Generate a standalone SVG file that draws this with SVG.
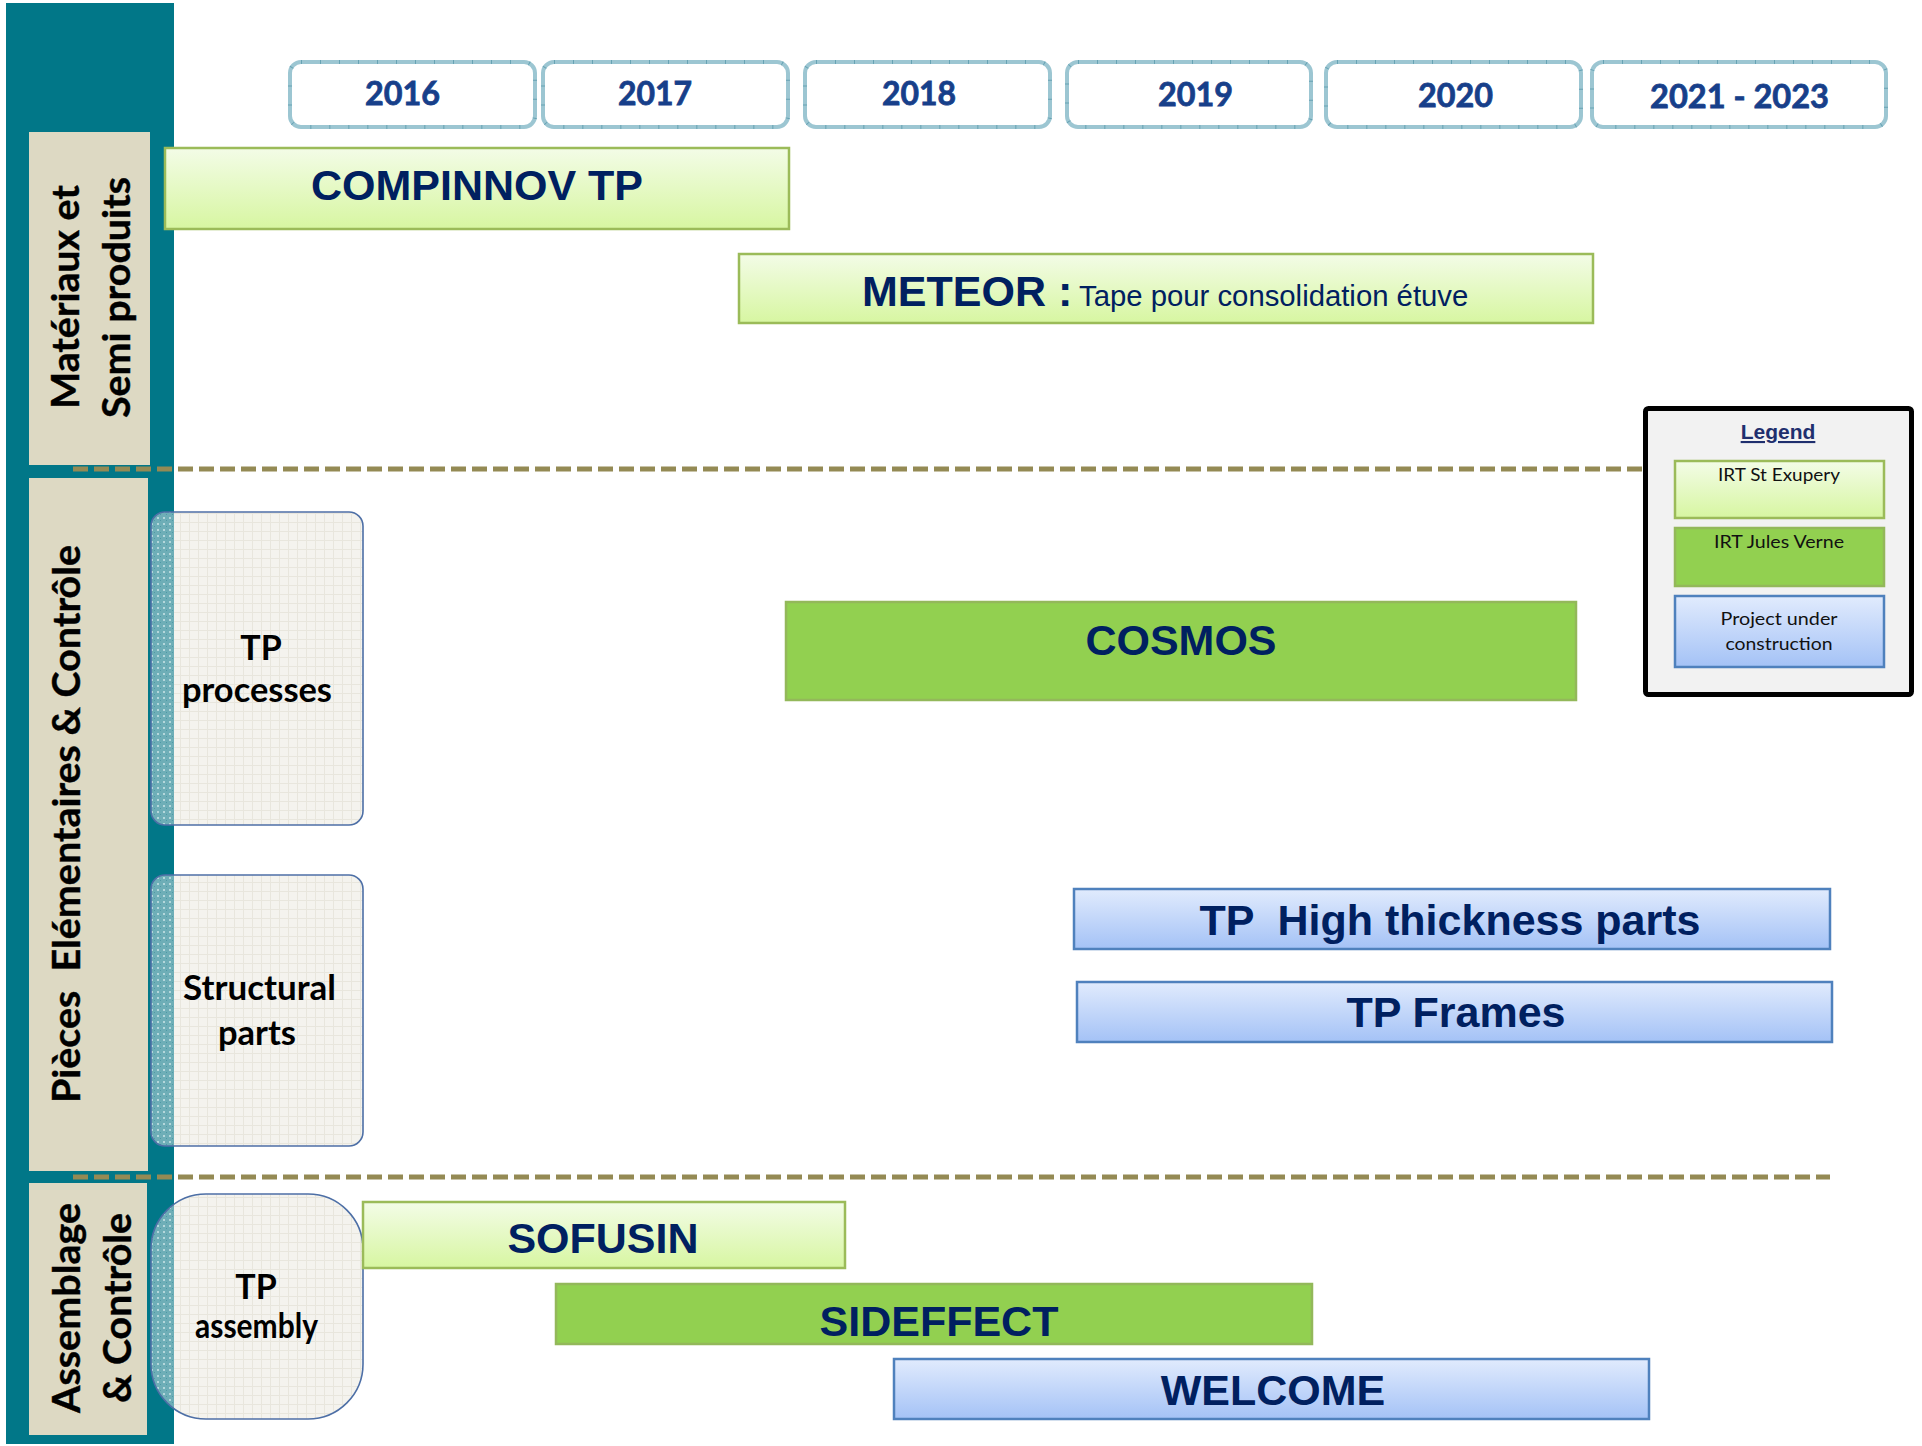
<svg xmlns="http://www.w3.org/2000/svg" width="1922" height="1446" viewBox="0 0 1922 1446">
  <defs>
    <linearGradient id="gLight" x1="0" y1="0" x2="0" y2="1">
      <stop offset="0" stop-color="#f3fce7"/>
      <stop offset="1" stop-color="#d7f6a1"/>
    </linearGradient>
    <linearGradient id="gBlue" x1="0" y1="0" x2="0" y2="1">
      <stop offset="0" stop-color="#e1ebfd"/>
      <stop offset="1" stop-color="#a4c2f6"/>
    </linearGradient>
    <!-- faint paper grid for the category boxes -->
    <pattern id="paper" width="9" height="9" patternUnits="userSpaceOnUse">
      <rect width="9" height="9" fill="#f4f3ee"/>
      <path d="M0 0.5H9M0.5 0V9" stroke="#e8e6dd" stroke-width="1"/>
    </pattern>
    <!-- checker seen where the boxes overlap the teal band -->
    <pattern id="tealCheck" width="6" height="6" patternUnits="userSpaceOnUse">
      <rect width="6" height="6" fill="#6eaeb7"/>
      <rect x="1" y="1" width="2" height="2" fill="#b4d7db"/>
      <rect x="4" y="4" width="1" height="1" fill="#4d99a5"/>
    </pattern>
    <clipPath id="cpProc"><rect x="151" y="512" width="212" height="313" rx="14"/></clipPath>
    <clipPath id="cpStruct"><rect x="151" y="875" width="212" height="271" rx="14"/></clipPath>
    <clipPath id="cpAsm"><rect x="151" y="1194" width="212" height="225" rx="55"/></clipPath>
    <style>
      .band { fill: #017788; }
      .lane { fill: #ddd9c3; }
      .laneText { font-family: Lato, "Open Sans", sans-serif; font-weight: 700; fill: #000; stroke: #000; stroke-width: 0.4; text-anchor: middle; }
      .sep { stroke: #948a54; stroke-width: 5; stroke-dasharray: 15 6; fill: none; }
      .year { fill: #fff; stroke: #9cc6d2; stroke-width: 4; }
      .yearTick { fill: none; stroke: #67a3b4; stroke-width: 4; stroke-dasharray: 1 18; }
      .yearText { font-family: Lato, "Open Sans", sans-serif; font-weight: 700; font-size: 33px; fill: #173f8a; stroke: #173f8a; stroke-width: 0.8; text-anchor: middle; white-space: pre; }
      .light { fill: url(#gLight); stroke: #9bbb59; stroke-width: 2.5; }
      .green { fill: #92d050; stroke: #93b85a; stroke-width: 2.5; }
      .blue { fill: url(#gBlue); stroke: #4f81bd; stroke-width: 2.5; }
      .bar { font-family: "Liberation Sans", Arial, sans-serif; font-weight: 700; font-size: 43px; fill: #002060; text-anchor: middle; white-space: pre; }
      .barStart { font-family: "Liberation Sans", Arial, sans-serif; font-weight: 700; font-size: 43px; fill: #002060; text-anchor: start; white-space: pre; }
      .cat { fill: url(#paper); }
      .catEdge { fill: none; stroke: #4d6fa6; stroke-width: 1.6; }
      .catText { font-family: Lato, "Open Sans", sans-serif; font-weight: 700; font-size: 34px; fill: #000; text-anchor: middle; }
      .legText { font-family: Lato, "Open Sans", sans-serif; font-size: 18px; fill: #111; text-anchor: middle; }
    </style>
  </defs>

  <rect width="1922" height="1446" fill="#fff"/>

  <!-- left teal band with the three lane headers -->
  <g id="lanes">
    <rect class="band" x="6" y="3" width="168" height="1441"/>
    <g id="lane-materiaux">
      <rect class="lane" x="29" y="132" width="121" height="333"/>
      <text class="laneText" font-size="38" transform="translate(79,297) rotate(-90)" textLength="224" lengthAdjust="spacingAndGlyphs">Matériaux et</text>
      <text class="laneText" font-size="38" transform="translate(130,297.5) rotate(-90)" textLength="241" lengthAdjust="spacingAndGlyphs">Semi produits</text>
    </g>
    <g id="lane-pieces">
      <rect class="lane" x="29" y="478" width="119" height="693"/>
      <text class="laneText" font-size="38" style="white-space:pre" transform="translate(80,824) rotate(-90)" textLength="558" lengthAdjust="spacingAndGlyphs">Pièces  Elémentaires &amp; Contrôle</text>
    </g>
    <g id="lane-assemblage">
      <rect class="lane" x="29" y="1183" width="118" height="252"/>
      <text class="laneText" font-size="38" transform="translate(80,1308) rotate(-90)" textLength="210" lengthAdjust="spacingAndGlyphs">Assemblage</text>
      <text class="laneText" font-size="38" transform="translate(131,1308) rotate(-90)" textLength="190" lengthAdjust="spacingAndGlyphs">&amp; Contrôle</text>
    </g>
  </g>

  <!-- lane separators -->
  <g id="connectors">
    <line class="sep" x1="73" y1="469" x2="1645" y2="469"/>
    <line class="sep" x1="73" y1="1177" x2="1830" y2="1177"/>
  </g>

  <!-- year header -->
  <g id="years">
    <g id="y2016">
      <rect class="year" x="290" y="62" width="245" height="65" rx="11"/>
      <rect class="yearTick" x="290" y="62" width="245" height="65" rx="11"/>
      <text class="yearText" x="402.5" y="105" textLength="75" lengthAdjust="spacingAndGlyphs">2016</text>
    </g>
    <g id="y2017">
      <rect class="year" x="543" y="62" width="245" height="65" rx="11"/>
      <rect class="yearTick" x="543" y="62" width="245" height="65" rx="11"/>
      <text class="yearText" x="655" y="105" textLength="74" lengthAdjust="spacingAndGlyphs">2017</text>
    </g>
    <g id="y2018">
      <rect class="year" x="805" y="62" width="245" height="65" rx="11"/>
      <rect class="yearTick" x="805" y="62" width="245" height="65" rx="11"/>
      <text class="yearText" x="919" y="105" textLength="74" lengthAdjust="spacingAndGlyphs">2018</text>
    </g>
    <g id="y2019">
      <rect class="year" x="1067" y="62" width="244" height="65" rx="11"/>
      <rect class="yearTick" x="1067" y="62" width="244" height="65" rx="11"/>
      <text class="yearText" x="1195.5" y="106" textLength="75" lengthAdjust="spacingAndGlyphs">2019</text>
    </g>
    <g id="y2020">
      <rect class="year" x="1326" y="62" width="255" height="65" rx="11"/>
      <rect class="yearTick" x="1326" y="62" width="255" height="65" rx="11"/>
      <text class="yearText" x="1455.5" y="107" textLength="75" lengthAdjust="spacingAndGlyphs">2020</text>
    </g>
    <g id="y2021">
      <rect class="year" x="1592" y="62" width="294" height="65" rx="11"/>
      <rect class="yearTick" x="1592" y="62" width="294" height="65" rx="11"/>
      <text class="yearText" x="1739.5" y="108" textLength="179" lengthAdjust="spacingAndGlyphs">2021 - 2023</text>
    </g>
  </g>

  <!-- category boxes -->
  <g id="cat-tp-processes">
    <rect class="cat" x="151" y="512" width="212" height="313" rx="14"/>
    <rect x="151" y="512" width="23" height="313" fill="url(#tealCheck)" clip-path="url(#cpProc)"/>
    <rect class="catEdge" x="151" y="512" width="212" height="313" rx="14"/>
    <text class="catText" x="261" y="660">TP</text>
    <text class="catText" x="257" y="702" textLength="150" lengthAdjust="spacingAndGlyphs">processes</text>
  </g>
  <g id="cat-structural">
    <rect class="cat" x="151" y="875" width="212" height="271" rx="14"/>
    <rect x="151" y="875" width="23" height="271" fill="url(#tealCheck)" clip-path="url(#cpStruct)"/>
    <rect class="catEdge" x="151" y="875" width="212" height="271" rx="14"/>
    <text class="catText" x="259.5" y="1000" textLength="153" lengthAdjust="spacingAndGlyphs">Structural</text>
    <text class="catText" x="257" y="1045" textLength="78" lengthAdjust="spacingAndGlyphs">parts</text>
  </g>
  <g id="cat-tp-assembly">
    <rect class="cat" x="151" y="1194" width="212" height="225" rx="55"/>
    <rect x="151" y="1194" width="23" height="225" fill="url(#tealCheck)" clip-path="url(#cpAsm)"/>
    <rect class="catEdge" x="151" y="1194" width="212" height="225" rx="55"/>
    <text class="catText" x="256" y="1299" font-size="29">TP</text>
    <text class="catText" x="256.5" y="1338" font-size="30" textLength="123" lengthAdjust="spacingAndGlyphs">assembly</text>
  </g>

  <!-- project bars -->
  <g id="compinnov">
    <rect class="light" x="165" y="148" width="624" height="81"/>
    <text class="bar" x="477" y="200" font-size="42">COMPINNOV TP</text>
  </g>
  <g id="meteor">
    <rect class="light" x="739" y="254" width="854" height="69"/>
    <text class="barStart" y="306"><tspan x="862">METEOR :</tspan><tspan x="1079" font-weight="400" font-size="29.3">Tape pour consolidation étuve</tspan></text>
  </g>
  <g id="cosmos">
    <rect class="green" x="786" y="602" width="790" height="98"/>
    <text class="bar" x="1181" y="655" font-size="42">COSMOS</text>
  </g>
  <g id="tp-high-thickness">
    <rect class="blue" x="1074" y="889" width="756" height="60"/>
    <text class="bar" x="1450" y="935" font-size="42">TP  High thickness parts</text>
  </g>
  <g id="tp-frames">
    <rect class="blue" x="1077" y="982" width="755" height="60"/>
    <text class="bar" x="1456" y="1027" font-size="42">TP Frames</text>
  </g>
  <g id="sofusin">
    <rect class="light" x="363" y="1202" width="482" height="66"/>
    <text class="bar" x="603" y="1253">SOFUSIN</text>
  </g>
  <g id="sideffect">
    <rect class="green" x="556" y="1284" width="756" height="60"/>
    <text class="bar" x="939" y="1336">SIDEFFECT</text>
  </g>
  <g id="welcome">
    <rect class="blue" x="894" y="1359" width="755" height="60"/>
    <text class="bar" x="1273" y="1405">WELCOME</text>
  </g>

  <!-- legend -->
  <g id="legend">
    <rect x="1645.5" y="408.5" width="266" height="286" rx="3" fill="#f2f2f2" stroke="#000" stroke-width="5"/>
    <text x="1778" y="439" font-family="Liberation Sans, Arial, sans-serif" font-weight="700" font-size="21" fill="#1f2f6e" text-anchor="middle" text-decoration="underline">Legend</text>
    <rect class="light" x="1675" y="461" width="209" height="57" stroke-width="2"/>
    <text class="legText" x="1779" y="481" textLength="122" lengthAdjust="spacingAndGlyphs">IRT St Exupery</text>
    <rect class="green" x="1675" y="528" width="209" height="58" stroke-width="2"/>
    <text class="legText" x="1779" y="548" textLength="130" lengthAdjust="spacingAndGlyphs">IRT Jules Verne</text>
    <rect class="blue" x="1675" y="596" width="209" height="71" stroke-width="2"/>
    <text class="legText" x="1779" y="625" textLength="117" lengthAdjust="spacingAndGlyphs">Project under</text>
    <text class="legText" x="1779" y="650" textLength="107" lengthAdjust="spacingAndGlyphs">construction</text>
  </g>
</svg>
